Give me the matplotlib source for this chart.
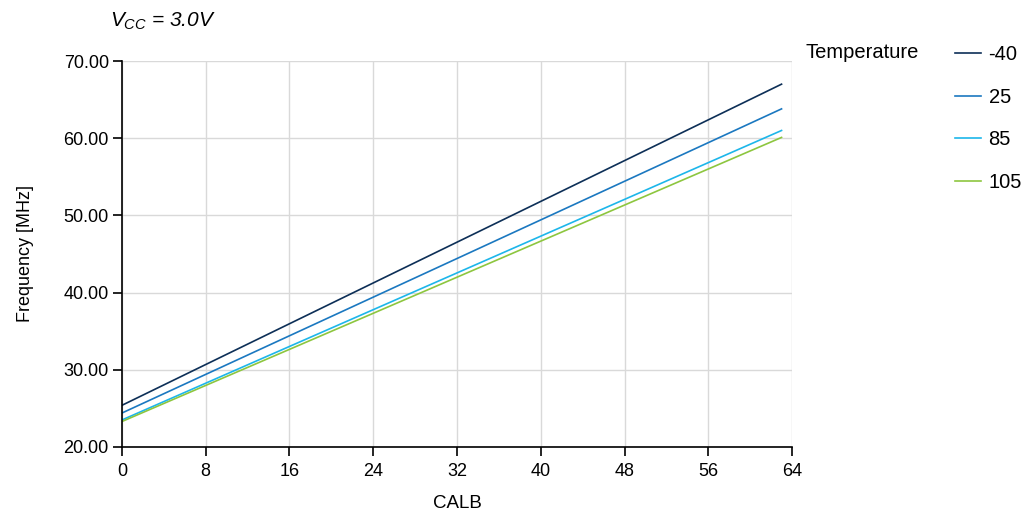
import matplotlib

matplotlib.use('Agg')
import matplotlib.pyplot as plt

plt.rcParams['font.family'] = ['Liberation Sans', 'DejaVu Sans']
plt.rcParams['mathtext.fontset'] = 'custom'
plt.rcParams['mathtext.it'] = 'Liberation Sans:italic'
plt.rcParams['mathtext.rm'] = 'Liberation Sans'

# CALB code vs frequency
calb = [0, 63]
temperaturas = ['-40', '25', '85', '105']
freq_m40 = [25.4, 67.0]
freq_25 = [24.4, 63.8]
freq_85 = [23.5, 61.0]
freq_105 = [23.3, 60.1]
series = [freq_m40, freq_25, freq_85, freq_105]
cores = ['#0d2f57', '#1b78c0', '#1db6ea', '#8dc63f']

x_ticks = [0, 8, 16, 24, 32, 40, 48, 56, 64]
y_ticks = [20, 30, 40, 50, 60, 70]

fig = plt.figure(figsize=(10.25, 5.14), dpi=100)
ax = fig.add_axes([0.119, 0.1304, 0.6537, 0.7509])

for temp, vals, cor in zip(temperaturas, series, cores):
    ax.plot(calb, vals, color=cor, linewidth=1.2, label=temp)

ax.set_xlim(0, 64)
ax.set_ylim(20, 70)
ax.set_xticks(x_ticks)
ax.set_yticks(y_ticks)
ax.set_yticklabels(['%.2f' % v for v in y_ticks])
ax.grid(True, color='#d9d9d9', linewidth=1.0)
ax.set_axisbelow(True)
for lado in ['top', 'right']:
    ax.spines[lado].set_visible(False)
for lado in ['left', 'bottom']:
    ax.spines[lado].set_color('black')
    ax.spines[lado].set_linewidth(1.2)
ax.tick_params(direction='out', length=6.5, width=1.2, labelsize=13)
ax.tick_params(axis='x', pad=5)
ax.tick_params(axis='y', pad=3)

ax.set_xlabel('CALB', fontsize=13.5, labelpad=11)
ax.set_ylabel('Frequency [MHz]', fontsize=13, labelpad=21)

fig.text(0.107, 0.958, r'$V_{CC}$ = 3.0V', fontsize=15, style='italic', va='center')

fig.text(0.786, 0.897, 'Temperature', fontsize=14.5, va='center')
ax.legend(loc='upper left', bbox_to_anchor=(0.932, 0.912), bbox_transform=fig.transFigure,
          frameon=False, fontsize=14.5, handlelength=1.3, handletextpad=0.35,
          labelspacing=1.17, borderaxespad=0, borderpad=0)

fig.savefig('out.png', dpi=100)
